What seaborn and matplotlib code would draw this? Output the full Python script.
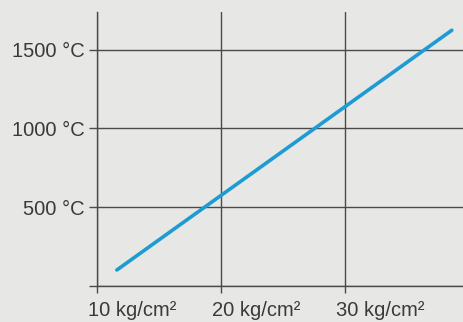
import matplotlib
matplotlib.use("Agg")
import matplotlib.pyplot as plt
import matplotlib.transforms as mtransforms
import seaborn as sns
import pandas as pd

# Data
pressure = [11.6, 38.6]          # kg/cm²
temperature = [100, 1625]        # °C
x_ticks = [10, 20, 30]
x_labels = ["10 kg/cm²", "20 kg/cm²", "30 kg/cm²"]
y_ticks = [0, 500, 1000, 1500]
y_labels = ["", "500 °C", "1000 °C", "1500 °C"]

sns.set_theme(style="white")
plt.rcParams["font.family"] = ["Liberation Sans", "DejaVu Sans"]

bg = "#e7e7e5"
grid_c = "#4a4a4a"
text_c = "#3a3a3a"

fig = plt.figure(figsize=(4.63, 3.22), dpi=100, facecolor=bg)
ax = fig.add_axes([97 / 463, 36.3 / 322, 1 - 97 / 463, (285.7 - 12) / 322])
ax.set_facecolor(bg)

df = pd.DataFrame({"p": pressure, "t": temperature})
sns.lineplot(data=df, x="p", y="t", ax=ax, color="#1f9bd4", linewidth=2.6, zorder=3)

ax.set_xlim(10, 39.5)
ax.set_ylim(0, 1741)
ax.set_xticks(x_ticks)
ax.set_yticks(y_ticks)
ax.set_xticklabels(x_labels)
ax.set_yticklabels(y_labels)
ax.set_xlabel("")
ax.set_ylabel("")

ax.grid(True, color=grid_c, linewidth=1.0)
for s in ["top", "right"]:
    ax.spines[s].set_visible(False)
for s in ["left", "bottom"]:
    ax.spines[s].set_color(grid_c)
    ax.spines[s].set_linewidth(1.0)

ax.tick_params(axis="x", length=5, width=1.0, color=grid_c, pad=6,
               labelsize=14.5, labelcolor=text_c, bottom=True)
ax.tick_params(axis="y", length=6, width=1.0, color=grid_c, pad=3,
               labelsize=14.5, labelcolor=text_c, left=True)

offset = mtransforms.ScaledTranslation(-9 / 100, 0, fig.dpi_scale_trans)
for lab in ax.get_xticklabels():
    lab.set_horizontalalignment("left")
    lab.set_transform(lab.get_transform() + offset)

fig.savefig("out.png", dpi=100, facecolor=bg)
